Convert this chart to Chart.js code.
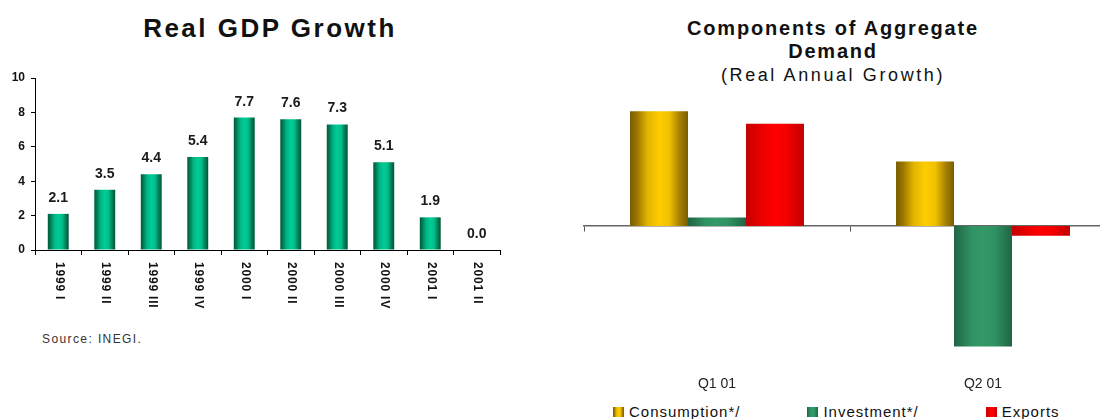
<!DOCTYPE html>
<html>
<head>
<meta charset="utf-8">
<script src="https://cdn.jsdelivr.net/npm/chart.js@4/dist/chart.umd.min.js"></script>
<style>
html,body{margin:0;padding:0;background:#fff;overflow:hidden;width:1100px;height:419px;}
body{position:relative;font-family:"Liberation Sans",Arial,sans-serif;color:#111;}
#c1{position:absolute;left:0;top:0;}
#c2{position:absolute;left:560px;top:0;}
.t1{position:absolute;left:70px;width:400px;top:13px;text-align:center;font-weight:bold;font-size:26px;line-height:30px;letter-spacing:2.5px;white-space:nowrap;}
.t2{position:absolute;left:583px;width:500px;top:17px;text-align:center;font-weight:bold;font-size:20px;line-height:23px;letter-spacing:1.8px;white-space:nowrap;}
.t2s{position:absolute;left:583px;width:500px;top:64px;text-align:center;font-size:18px;line-height:22px;letter-spacing:2.6px;white-space:nowrap;}
.src{position:absolute;left:42px;top:332px;font-size:12px;line-height:14px;letter-spacing:1.4px;color:#333;white-space:nowrap;}
#legend{position:absolute;left:613px;top:403px;display:flex;gap:67px;font-size:15px;line-height:17px;letter-spacing:1px;color:#111;white-space:nowrap;}
#legend .it{display:flex;align-items:center;}
#legend .bx{width:11px;height:10px;margin-right:5px;margin-top:1px;}
</style>
</head>
<body>
<div class="t1">Real GDP Growth</div>
<canvas id="c1" width="540" height="330"></canvas>
<div class="src">Source: INEGI.</div>

<div class="t2">Components of Aggregate<br>Demand</div>
<div class="t2s">(Real Annual Growth)</div>
<canvas id="c2" width="560" height="400"></canvas>
<div id="legend"></div>

<script>
// ---- data ----
const quarters = ['1999 I','1999 II','1999 III','1999 IV','2000 I','2000 II','2000 III','2000 IV','2001 I','2001 II'];
const gdpGrowth = [2.1, 3.5, 4.4, 5.4, 7.7, 7.6, 7.3, 5.1, 1.9, 0.0];
const gdpTicks = [0, 2, 4, 6, 8, 10];

const periods = ['Q1 01', 'Q2 01'];
const componentNames = ['Consumption*/', 'Investment*/', 'Exports'];
const consumption = [8.2, 4.6];
const investment = [0.6, -8.6];
const exportsGrowth = [7.3, -0.7];

// ---- styles ----
const FONT = '"Liberation Sans", Arial, sans-serif';
const greenStops = [[0,'#005a38'],[0.12,'#007a52'],[0.3,'#00b585'],[0.5,'#00cc96'],[0.68,'#00bf8c'],[0.85,'#00805a'],[1,'#005535']];
const goldStops  = [[0,'#7a5c00'],[0.12,'#9a7600'],[0.3,'#e0b400'],[0.5,'#ffcc00'],[0.68,'#f0c000'],[0.85,'#a88200'],[1,'#7a5c00']];
const invStops   = [[0,'#1f6444'],[0.3,'#2f9263'],[0.5,'#339966'],[0.7,'#2f9263'],[1,'#1f6444']];
const redStops   = [[0,'#c40000'],[0.3,'#ee0000'],[0.5,'#ff0000'],[0.7,'#f40000'],[1,'#c00000']];

function cylinderPlugin(stopsPerDataset){
  return {
    id: 'cylinder',
    beforeDatasetsDraw(chart){
      const ctx = chart.ctx;
      chart.data.datasets.forEach((ds, di) => {
        const stops = stopsPerDataset[di];
        if (!stops) return;
        chart.getDatasetMeta(di).data.forEach(el => {
          const x = el.x, w = el.width;
          if (!isFinite(x) || !w) return;
          const g = ctx.createLinearGradient(x - w/2, 0, x + w/2, 0);
          stops.forEach(([o, c]) => g.addColorStop(o, c));
          el.options = Object.assign({}, el.options, {backgroundColor: g});
        });
      });
    }
  };
}

const valueLabels = {
  id: 'valueLabels',
  afterDatasetsDraw(chart){
    const ctx = chart.ctx;
    const meta = chart.getDatasetMeta(0);
    const vals = chart.data.datasets[0].data;
    ctx.save();
    ctx.font = 'bold 14px ' + FONT;
    ctx.fillStyle = '#1a1a1a';
    ctx.textAlign = 'center';
    ctx.textBaseline = 'alphabetic';
    meta.data.forEach((el, i) => {
      ctx.fillText(vals[i].toFixed(1), el.x, el.y - 12);
    });
    ctx.restore();
  }
};

const verticalLabels = {
  id: 'verticalLabels',
  afterDraw(chart){
    const ctx = chart.ctx;
    const xs = chart.scales.x;
    ctx.save();
    ctx.font = 'bold 12px ' + FONT;
    ctx.fillStyle = '#111';
    ctx.textAlign = 'left';
    ctx.textBaseline = 'middle';
    if ('letterSpacing' in ctx) ctx.letterSpacing = '0.8px';
    chart.data.labels.forEach((lab, i) => {
      const x = xs.getPixelForTick(i);
      ctx.save();
      ctx.translate(x + 1, xs.top + 12);
      ctx.rotate(Math.PI / 2);
      ctx.fillText(lab, 0, 0);
      ctx.restore();
    });
    ctx.restore();
  }
};

// ---- left chart ----
new Chart(document.getElementById('c1'), {
  type: 'bar',
  data: {
    labels: quarters,
    datasets: [{
      data: gdpGrowth,
      backgroundColor: '#00b383',
      borderWidth: 0,
      categoryPercentage: 1,
      barPercentage: 0.45
    }]
  },
  options: {
    responsive: false,
    animation: false,
    devicePixelRatio: 1,
    layout: {padding: {top: 78, right: 40, left: 0, bottom: 0}},
    plugins: {legend: {display: false}, tooltip: {enabled: false}, title: {display: false}},
    scales: {
      x: {
        grid: {display: true, offset: true, drawOnChartArea: false, drawTicks: true, tickLength: 5, color: '#000', lineWidth: 1},
        border: {display: true, color: '#000', width: 1},
        ticks: {display: false},
        afterFit(s){ s.height = 80; }
      },
      y: {
        min: 0, max: 10,
        afterBuildTicks(s){ s.ticks = gdpTicks.map(v => ({value: v})); },
        ticks: {font: {family: FONT, size: 12, weight: 'bold'}, color: '#111', padding: 6},
        grid: {drawOnChartArea: false, drawTicks: true, tickLength: 4, color: '#000'},
        border: {display: true, color: '#000', width: 1},
        afterFit(s){ s.width = 35; }
      }
    }
  },
  plugins: [cylinderPlugin([greenStops]), valueLabels, verticalLabels]
});

// ---- right chart ----
const rightStops = [goldStops, invStops, redStops];
const rightFlat = ['#e0b000', '#2e8b57', '#ff0000'];
new Chart(document.getElementById('c2'), {
  type: 'bar',
  data: {
    labels: periods,
    datasets: [
      {label: componentNames[0], data: consumption, backgroundColor: rightFlat[0], xAxisID: 'x', yAxisID: 'y'},
      {label: componentNames[1], data: investment, backgroundColor: rightFlat[1], xAxisID: 'x', yAxisID: 'y'},
      {label: componentNames[2], data: exportsGrowth, backgroundColor: rightFlat[2], xAxisID: 'x', yAxisID: 'y'}
    ]
  },
  options: {
    responsive: false,
    animation: false,
    devicePixelRatio: 1,
    datasets: {bar: {categoryPercentage: 0.654, barPercentage: 1, borderWidth: 0}},
    layout: {padding: {left: 24, right: 4, top: 86, bottom: 0}},
    plugins: {legend: {display: false}, tooltip: {enabled: false}, title: {display: false}},
    scales: {
      x: {
        grid: {display: false, drawTicks: false},
        border: {display: false},
        ticks: {font: {family: FONT, size: 14}, color: '#222', padding: 10},
        afterFit(s){ s.height = 34; }
      },
      xZero: {
        type: 'category',
        axis: 'x',
        labels: periods,
        position: {y: 0},
        offset: true,
        grid: {display: true, offset: true, drawOnChartArea: false, drawTicks: true, tickLength: 5, color: '#555'},
        border: {display: true, color: '#666', width: 1.5},
        ticks: {display: false}
      },
      y: {display: false, min: -10, max: 10}
    }
  },
  plugins: [cylinderPlugin(rightStops)]
});

// ---- legend (HTML) ----
const legendEl = document.getElementById('legend');
componentNames.forEach((name, i) => {
  const it = document.createElement('div');
  it.className = 'it';
  const bx = document.createElement('span');
  bx.className = 'bx';
  bx.style.background = 'linear-gradient(to right,' + rightStops[i].map(([o, c]) => c + ' ' + (o * 100) + '%').join(',') + ')';
  const tx = document.createElement('span');
  tx.textContent = name;
  it.appendChild(bx);
  it.appendChild(tx);
  legendEl.appendChild(it);
});
</script>
</body>
</html>
